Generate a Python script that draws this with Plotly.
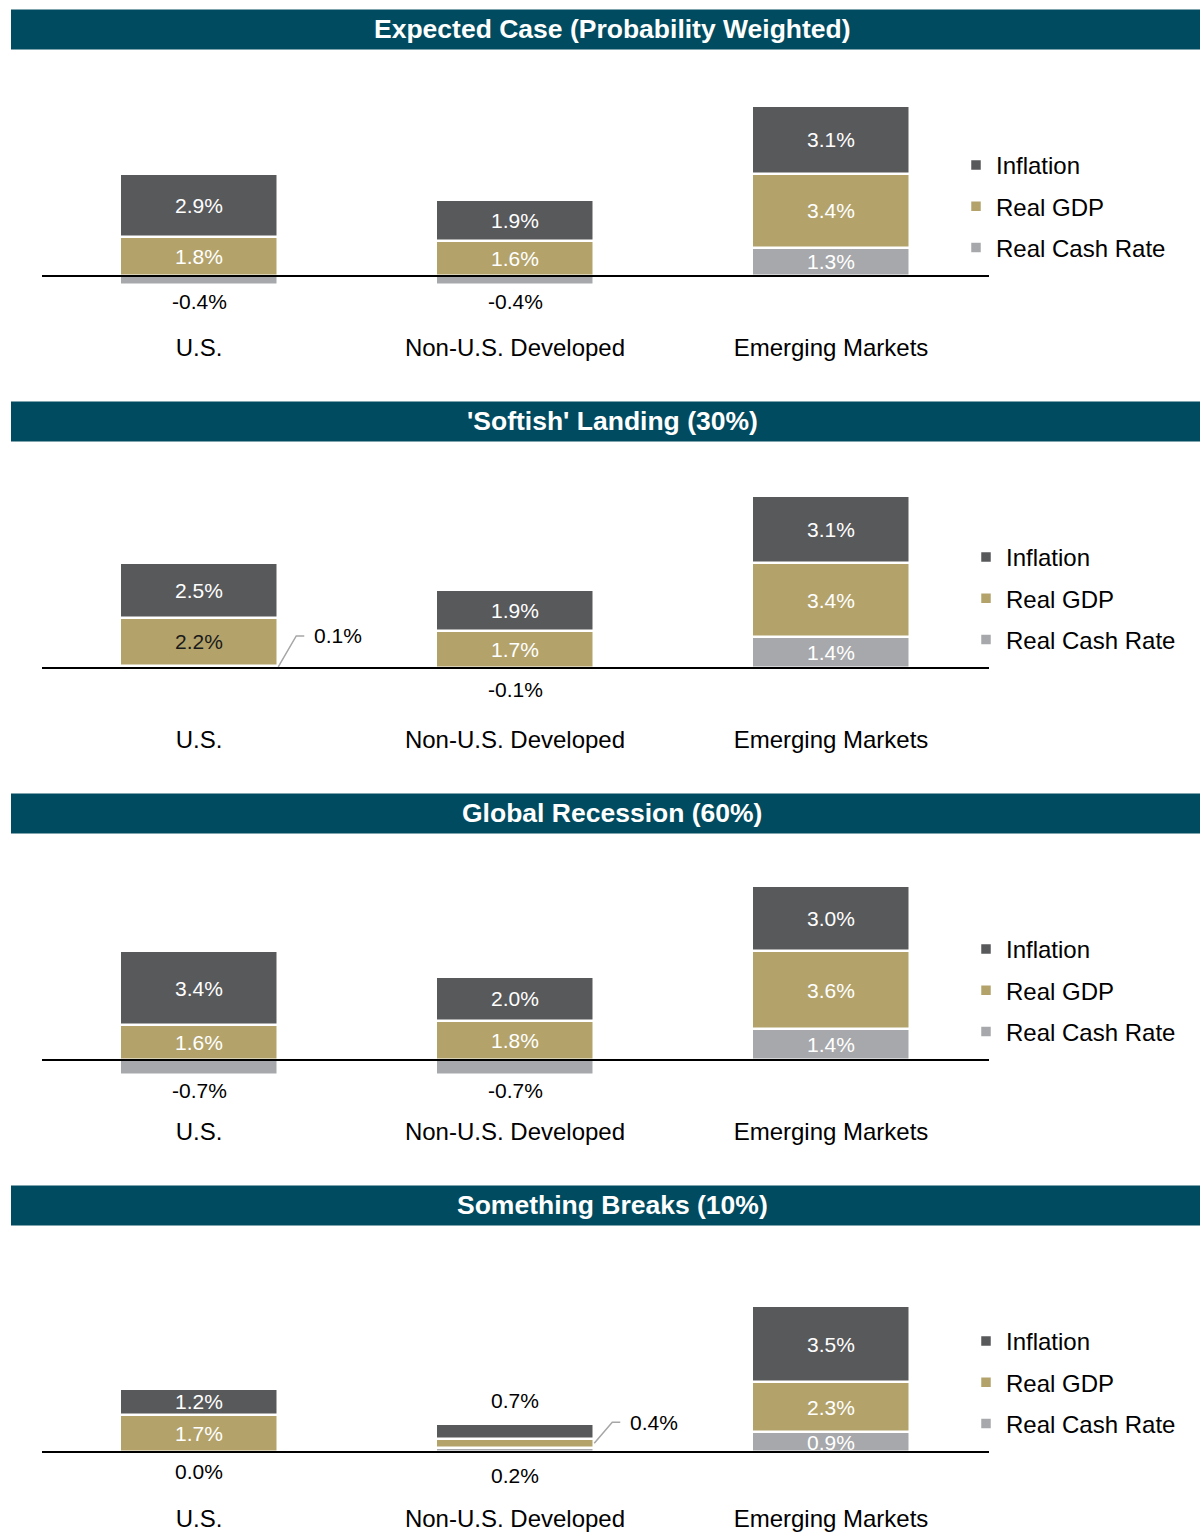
import plotly.graph_objects as go

# ---------------- data ----------------
categories = ["U.S.", "Non-U.S. Developed", "Emerging Markets"]
scenarios = [
    "Expected Case (Probability Weighted)",
    "'Softish' Landing (30%)",
    "Global Recession (60%)",
    "Something Breaks (10%)",
]
# stacking order bottom -> top
real_cash_rate = [[-0.4, -0.4, 1.3], [0.1, -0.1, 1.4], [-0.7, -0.7, 1.4], [0.0, 0.2, 0.9]]
real_gdp = [[1.8, 1.6, 3.4], [2.2, 1.7, 3.4], [1.6, 1.8, 3.6], [1.7, 0.4, 2.3]]
inflation = [[2.9, 1.9, 3.1], [2.5, 1.9, 3.1], [3.4, 2.0, 3.0], [1.2, 0.7, 3.5]]

# ---------------- styles ----------------
FONT = "Liberation Sans, Arial, sans-serif"
COLORS = {"Real Cash Rate": "#A7A8AB", "Real GDP": "#B3A36B", "Inflation": "#58595B"}
LEGEND_RANK = {"Inflation": 1, "Real GDP": 2, "Real Cash Rate": 3}
HEADER_COLOR = "#004B5F"
# label placement exceptions: (panel, series, category) -> (mode, pixel shift)
PLACEMENT = {
    (0, "Real Cash Rate", 0): ("below", -3), (0, "Real Cash Rate", 1): ("below", -3),
    (1, "Real Cash Rate", 0): ("right", 31), (1, "Real Cash Rate", 1): ("below", -6),
    (2, "Real Cash Rate", 0): ("below", -2), (2, "Real Cash Rate", 1): ("below", -2),
    (3, "Real Cash Rate", 0): ("below", -6), (3, "Real Cash Rate", 1): ("below", -10),
    (3, "Real GDP", 1): ("right", 21), (3, "Inflation", 1): ("above", 10),
}
DARK_INSIDE = {(1, "Real GDP", 0)}
AXIS_BOTTOM = [331, 331, 331, 326]   # px below each header where category labels sit

FIG_W, FIG_H = 1200, 1534
STEP = 392
PPU = 21.8            # pixels per percentage point
X_LEFT, X_RIGHT = 42, 989
CAT0, PITCH = 199, 316
BAR_W = 158.5 / PITCH


def py(px):
    return 1 - px / FIG_H


fig = go.Figure()
annotations = []
shapes = []

for k in range(4):
    off = STEP * k
    top, zero, bot = 60 + off, 276 + off, AXIS_BOTTOM[k] + off
    sfx = "" if k == 0 else str(k + 1)
    xa, ya = "x" + sfx, "y" + sfx
    lg = "legend" + sfx

    series = [("Real Cash Rate", real_cash_rate[k]),
              ("Real GDP", real_gdp[k]),
              ("Inflation", inflation[k])]
    for name, vals in series:
        fig.add_trace(go.Bar(
            x=[0, 1, 2], y=vals, name=name, xaxis=xa, yaxis=ya,
            width=BAR_W, legend=lg, legendgroup=f"{name}-{k}", legendrank=LEGEND_RANK[name],
            marker=dict(color=COLORS[name], line=dict(color="white", width=2.5)),
            hoverinfo="skip",
        ))

    # labels following plotly's relative stacking
    pos = [0.0, 0.0, 0.0]
    neg = [0.0, 0.0, 0.0]
    for name, vals in series:
        for i, v in enumerate(vals):
            if v >= 0:
                base, topv = pos[i], pos[i] + v
                pos[i] = topv
            else:
                base, topv = neg[i] + v, neg[i]
                neg[i] = base
            mid = (base + topv) / 2
            mode, shift = PLACEMENT.get((k, name, i), ("in", 0))
            txt = f"{v:.1f}%"
            if mode == "in":
                col = "#1a1a1a" if (k, name, i) in DARK_INSIDE else "white"
                annotations.append(dict(x=i, y=mid, xref=xa, yref=ya, text=txt, showarrow=False,
                                        xanchor="center", yanchor="middle",
                                        font=dict(family=FONT, size=21, color=col)))
            elif mode == "below":
                annotations.append(dict(x=i, y=min(0, neg[i]) if v < 0 else 0, xref=xa, yref=ya,
                                        text=txt, showarrow=False, xanchor="center",
                                        yanchor="top", yshift=shift,
                                        font=dict(family=FONT, size=21, color="black")))
            elif mode == "above":
                annotations.append(dict(x=i, y=topv, xref=xa, yref=ya, text=txt, showarrow=False,
                                        xanchor="center", yanchor="bottom", yshift=shift,
                                        font=dict(family=FONT, size=21, color="black")))
            elif mode == "right":
                xe = i + BAR_W / 2
                ylab = mid + shift / PPU
                shapes.append(dict(type="path", xref=xa, yref=ya,
                                   path=f"M {xe},{mid} L {xe + 18 / PITCH},{ylab} L {xe + 26 / PITCH},{ylab}",
                                   line=dict(color="#A6A6A6", width=1.5), layer="above"))
                annotations.append(dict(x=xe + 34 / PITCH, y=ylab, xref=xa, yref=ya, text=txt,
                                        showarrow=False, xanchor="left", yanchor="middle",
                                        font=dict(family=FONT, size=21, color="black")))

    fig.layout["xaxis" + sfx] = dict(
        domain=[X_LEFT / FIG_W, X_RIGHT / FIG_W],
        range=[-(CAT0 - X_LEFT) / PITCH, (X_RIGHT - CAT0) / PITCH],
        tickvals=[0, 1, 2], ticktext=categories, ticks="", showgrid=False,
        zeroline=False, showline=False, anchor=ya, fixedrange=True, automargin=False,
        tickfont=dict(family=FONT, size=24, color="black"),
    )
    fig.layout["yaxis" + sfx] = dict(
        domain=[py(bot), py(top)],
        range=[-(bot - zero) / PPU, (zero - top) / PPU],
        visible=False, anchor=xa, fixedrange=True, automargin=False,
    )

    # zero line
    shapes.append(dict(type="line", xref=xa + " domain", yref=ya, x0=0, x1=1, y0=0, y1=0,
                       line=dict(color="black", width=2), layer="above"))
    # header band
    shapes.append(dict(type="rect", xref="paper", yref="paper", x0=11 / FIG_W, x1=1,
                       y0=py(49.5 + off), y1=py(9.5 + off), fillcolor=HEADER_COLOR,
                       line=dict(width=0), layer="below"))
    annotations.append(dict(x=612 / FIG_W, y=py(29 + off), xref="paper", yref="paper",
                            xanchor="center", yanchor="middle",
                            text=f"<b>{scenarios[k]}</b>", showarrow=False,
                            font=dict(family=FONT, size=26.5, color="white")))

    lx = 956 if k == 0 else 966
    fig.layout[lg] = dict(
        x=lx / FIG_W, y=py(143 + off), xanchor="left", yanchor="top",
        traceorder="grouped", tracegroupgap=7, bgcolor="rgba(0,0,0,0)",
        font=dict(family=FONT, size=24, color="black"), itemclick=False, itemdoubleclick=False,
    )

fig.update_layout(
    width=FIG_W, height=FIG_H, autosize=False,
    margin=dict(l=0, r=0, t=0, b=0, autoexpand=False),
    barmode="relative", bargap=0,
    plot_bgcolor="white", paper_bgcolor="white",
    annotations=annotations, shapes=shapes,
    showlegend=True,
)

fig.write_html("out.html", config={"displayModeBar": False},
               post_script="document.body.style.margin='0';")
